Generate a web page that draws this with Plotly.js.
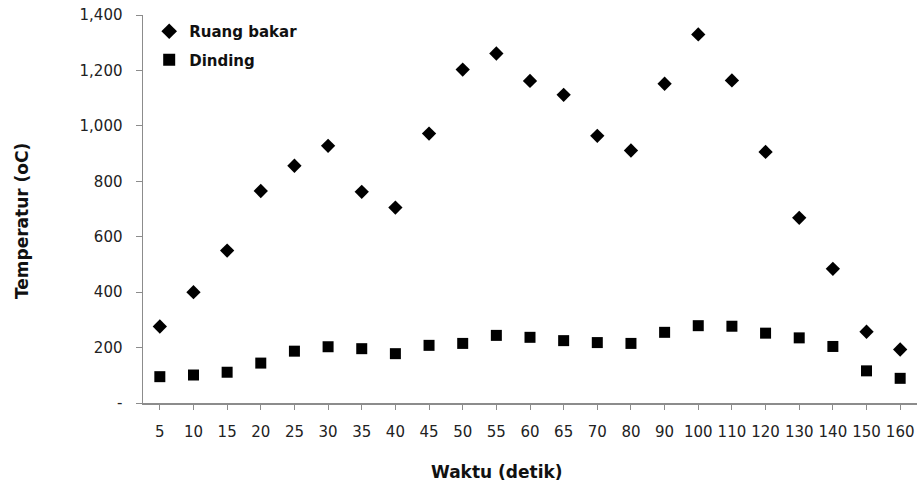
<!DOCTYPE html>
<html>
<head>
<meta charset="utf-8">
<script src="https://cdn.plot.ly/plotly-3.0.1.min.js"></script>
<style>
  html, body { margin: 0; padding: 0; background: #ffffff; }
  #chart { width: 920px; height: 486px; }
</style>
</head>
<body>
<div id="chart"></div>
<script>
// Waktu (detik) – categories along the x axis
const waktu = ['5', '10', '15', '20', '25', '30', '35', '40', '45', '50', '55', '60',
               '65', '70', '80', '90', '100', '110', '120', '130', '140', '150', '160'];

// Temperatur ruang bakar (oC)
const ruangBakar = [276, 400, 550, 765, 856, 928, 762, 705, 972, 1203, 1261, 1162,
                    1112, 964, 911, 1152, 1330, 1164, 906, 668, 484, 257, 193];

// Temperatur dinding (oC)
const dinding = [95, 101, 111, 144, 187, 203, 196, 178, 208, 215, 244, 237,
                 225, 218, 215, 255, 279, 277, 252, 235, 204, 116, 89];

// Y tick values and their accounting-style labels
const yTickVals = [0, 200, 400, 600, 800, 1000, 1200, 1400];
const yTickText = ['-', '200', '400', '600', '800', '1,000', '1,200', '1,400'];

const axisGrey = '#8c8c8c';
const tickFont = { family: 'DejaVu Sans, Verdana, sans-serif', size: 15, color: '#222222' };
const boldFont = { family: 'DejaVu Sans, Verdana, sans-serif', size: 17, color: '#111111', weight: 'bold' };

const traces = [
  {
    name: 'Ruang bakar',
    x: waktu,
    y: ruangBakar,
    type: 'scatter',
    mode: 'markers',
    legendgroup: 'a',
    marker: { symbol: 'diamond', size: 11, color: '#000000' }
  },
  {
    name: 'Dinding',
    x: waktu,
    y: dinding,
    type: 'scatter',
    mode: 'markers',
    legendgroup: 'b',
    marker: { symbol: 'square', size: 11, color: '#000000' }
  }
];

const layout = {
  width: 920,
  height: 486,
  margin: { l: 143, r: 3, t: 15, b: 83 },
  paper_bgcolor: '#ffffff',
  plot_bgcolor: '#ffffff',
  showlegend: true,
  legend: {
    x: 0.008, y: 1.0,
    xanchor: 'left', yanchor: 'top',
    bgcolor: 'rgba(0,0,0,0)',
    traceorder: 'grouped',
    tracegroupgap: 6,
    itemsizing: 'constant',
    font: { family: 'DejaVu Sans, Verdana, sans-serif', size: 15, color: '#111111', weight: 'bold' }
  },
  xaxis: {
    type: 'category',
    categoryorder: 'array',
    categoryarray: waktu,
    range: [-0.5, waktu.length - 0.5],
    showgrid: false,
    zeroline: false,
    showline: true,
    linecolor: axisGrey,
    linewidth: 1.5,
    ticks: 'outside',
    ticklen: 5,
    tickcolor: axisGrey,
    tickfont: tickFont,
    ticklabelstandoff: 9
  },
  // overlay axis carrying the tick marks on the category boundaries
  xaxis2: {
    type: 'linear',
    overlaying: 'x',
    anchor: 'y',
    side: 'bottom',
    range: [-0.5, waktu.length - 0.5],
    tickmode: 'linear',
    tick0: -0.5,
    dtick: 1,
    showgrid: false,
    zeroline: false,
    showline: false,
    ticks: 'outside',
    ticklen: 5,
    tickcolor: axisGrey,
    showticklabels: false
  },
  yaxis: {
    range: [0, 1400],
    tickmode: 'array',
    tickvals: yTickVals,
    ticktext: yTickText,
    showgrid: false,
    zeroline: false,
    showline: true,
    linecolor: axisGrey,
    linewidth: 1.5,
    ticks: 'outside',
    ticklen: 6,
    tickcolor: axisGrey,
    tickfont: tickFont,
    ticklabelstandoff: 10
  },
  annotations: [
    {
      text: 'Temperatur (oC)',
      xref: 'paper', yref: 'paper',
      x: -0.157, y: 0.47,
      xanchor: 'center', yanchor: 'middle',
      textangle: -90,
      showarrow: false,
      font: boldFont
    },
    {
      text: 'Waktu (detik)',
      xref: 'paper', yref: 'paper',
      x: 0.457, y: -0.178,
      xanchor: 'center', yanchor: 'middle',
      showarrow: false,
      font: boldFont
    }
  ]
};

Plotly.newPlot('chart', traces, layout, { displayModeBar: false, staticPlot: true });
</script>
</body>
</html>
